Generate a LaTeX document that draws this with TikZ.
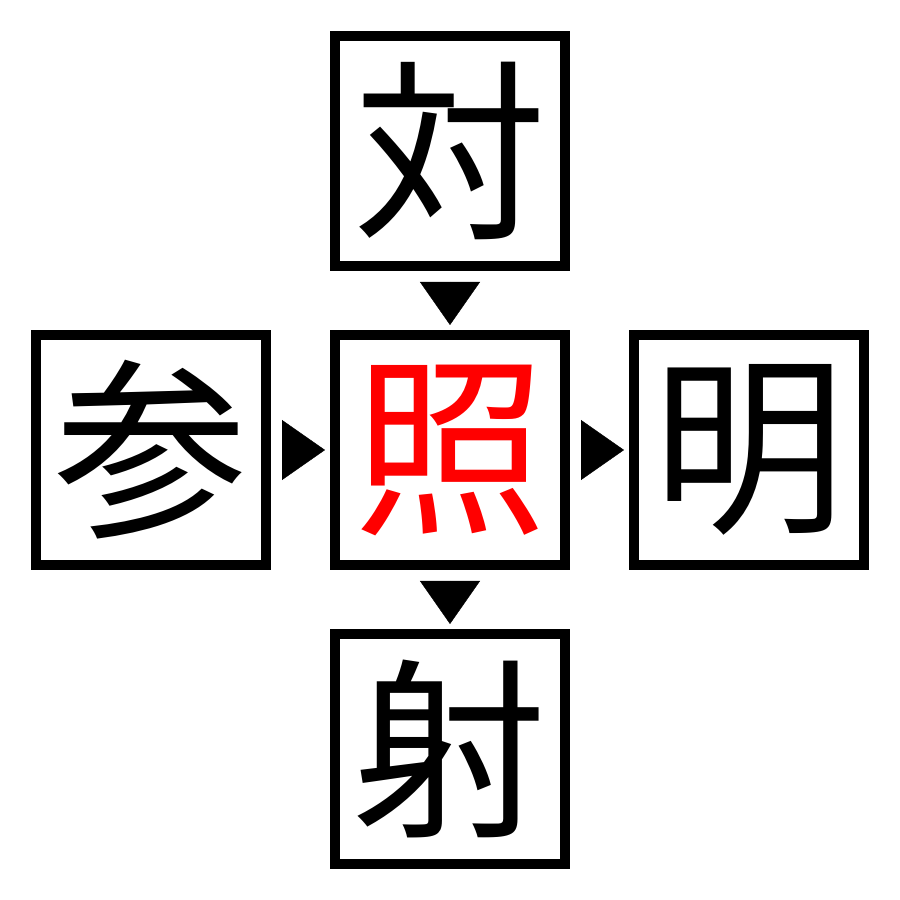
\documentclass[tikz,border=0pt]{standalone}
\usepackage{fontspec}
\newfontfamily\cjk{Noto Sans CJK JP}
\usetikzlibrary{arrows.meta,positioning}
\tikzset{
    cell/.style={draw, line width=1mm, minimum size=23mm, inner sep=0pt, font=\cjk\fontsize{55}{55}\selectfont},
    pointer/.style={-{Triangle[length=4.3mm,width=6mm]}, line width=0.1pt, shorten <=1.1mm, shorten >=0.5mm}
}
\begin{document}
\begin{tikzpicture}
        \useasboundingbox (0, 0) rectangle (9, 9);
        % Centre
        \node[cell, text=red] (mid) at (4.5, 4.5) {照};
        % Around it
        \node[cell, above=5.9mm of mid] (top) {対};
        \node[cell, left=5.9mm of mid] (left) {参};
        \node[cell, right=5.9mm of mid] (right) {明};
        \node[cell, below=5.9mm of mid] (bottom) {射};
        % Pointers
        \draw[pointer] (top.south) -- (mid.north);
        \draw[pointer] (left.east) -- (mid.west);
        \draw[pointer] (mid.east) -- (right.west);
        \draw[pointer] (mid.south) -- (bottom.north);
    \end{tikzpicture}
\end{document}
